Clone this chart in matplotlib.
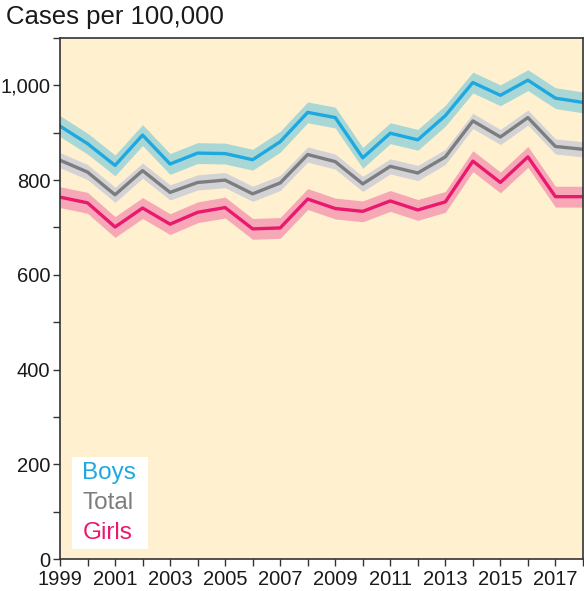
import matplotlib.pyplot as plt
from matplotlib.ticker import FuncFormatter, MultipleLocator

plt.rcParams['font.family'] = ['Liberation Sans', 'DejaVu Sans']

years = list(range(1999, 2019))
boys = [914, 877, 831, 895, 834, 857, 856, 843, 881, 943,
        932, 847, 899, 885, 936, 1006, 979, 1011, 973, 964]
total = [842, 817, 769, 820, 774, 795, 800, 771, 794, 854,
         839, 792, 829, 815, 849, 925, 891, 932, 871, 865]
girls = [764, 752, 701, 741, 707, 732, 742, 697, 699, 760,
         740, 734, 756, 737, 754, 840, 795, 849, 765, 765]
# half width of the shaded band around each line
band = {"Boys": 22, "Total": 16, "Girls": 22}

series = [
    ("Boys", boys, "#1fa8e0", "#a9d7d6"),
    ("Total", total, "#7d7d80", "#d3d3d6"),
    ("Girls", girls, "#e8196e", "#f7a8b6"),
]

fig = plt.figure(figsize=(5.84, 5.91), dpi=100)
ax = fig.add_axes([0.1027, 0.0541, 0.8955, 0.8816])
ax.set_facecolor("#fff0d0")

for name, vals, line_col, band_col in series:
    lo = [v - band[name] for v in vals]
    hi = [v + band[name] for v in vals]
    ax.fill_between(years, lo, hi, color=band_col, lw=0)
for name, vals, line_col, band_col in series:
    ax.plot(years, vals, color=line_col, lw=2.4)

ax.set_xlim(1999, 2018)
ax.set_ylim(0, 1100)
ax.set_xticks(years)
ax.set_xticklabels([str(y) if y % 2 == 1 else "" for y in years])
ax.yaxis.set_major_locator(MultipleLocator(200))
ax.yaxis.set_minor_locator(MultipleLocator(100))
ax.yaxis.set_major_formatter(FuncFormatter(lambda v, p: f"{int(v):,}"))
ax.tick_params(axis="both", which="both", direction="out", colors="#333333",
               labelcolor="#1a1a1a", labelsize=14.5, width=1)
ax.tick_params(axis="both", which="major", length=5)
ax.tick_params(axis="y", which="major", pad=2)
ax.tick_params(axis="x", which="major", pad=3)
ax.tick_params(axis="y", which="minor", length=5)
for s in ax.spines.values():
    s.set_color("#333333")
    s.set_linewidth(1.2)

# legend box
box = plt.Rectangle((0.0225, 0.0185), 0.146, 0.178, transform=ax.transAxes,
                    facecolor="white", edgecolor="none", zorder=3)
ax.add_patch(box)
for i, (name, vals, line_col, band_col) in enumerate(series):
    ax.text(0.043, 0.166 - i * 0.058, name, transform=ax.transAxes,
            color=line_col, fontsize=17.5, va="center", ha="left", zorder=4)

fig.text(0.01, 0.972, "Cases per 100,000", fontsize=18.5, color="#1a1a1a",
         va="center", ha="left")

fig.savefig("out.png", dpi=100)
